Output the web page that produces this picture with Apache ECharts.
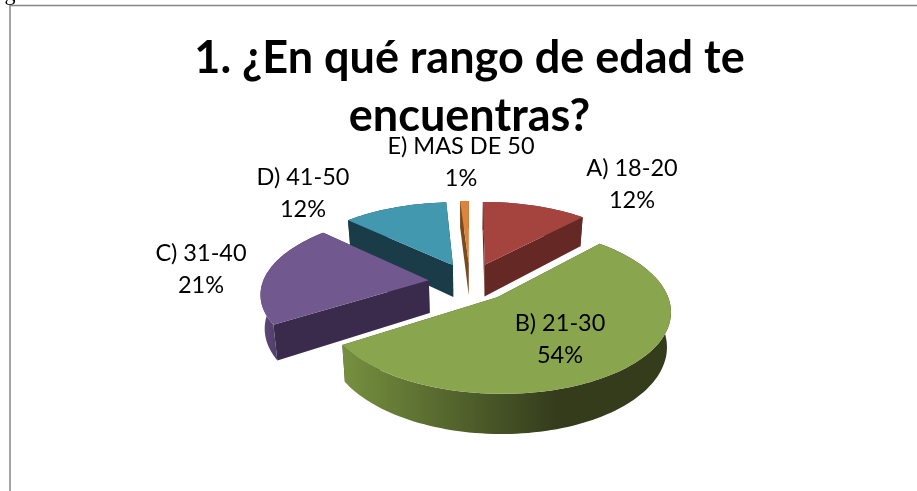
<!DOCTYPE html>
<html>
<head>
<meta charset="utf-8">
<style>
html,body{margin:0;padding:0;background:#fff;}
#chart{width:917px;height:491px;}
</style>
<script src="https://cdn.jsdelivr.net/npm/echarts@6/dist/echarts.min.js"></script>
</head>
<body>
<div id="chart"></div>
<script>
var titleText = '1. ¿En qué rango de edad te\nencuentras?';
var categories = ['A) 18-20', 'B) 21-30', 'C) 31-40', 'D) 41-50', 'E) MAS DE 50'];
var percents = [12, 54, 21, 12, 1];

// look of each slice, same order as categories
var topColors = ['#A5443F', '#89A54E', '#71588F', '#4198AF', '#DB843D'];
var cutColors = ['#652825', '#3C4522', '#3A2B4C', '#1A3C48', '#7A4A1E'];
var wallLeft = ['#652825', '#76903F', '#5F4A7C', '#1A3C48', '#7A4A1E'];
var wallRight = ['#652825', '#343C1C', '#3A2B4C', '#1A3C48', '#7A4A1E'];
var labelAt = [[632, 184], [560, 339], [201, 269], [303, 193], [461, 162]];

// projection of the tilted pie
var cx = 470, cy = 282, rx = 166, ry = 77, persp = 0.15, depth = 33, shrink = 0.98, explode = 0.25;

function project(u, v, low) {
    var w = 1 / (1 - persp * v);
    var x = cx + rx * u * w;
    var y = cy + ry * v * w;
    if (low) {
        x = cx + (x - cx) * shrink;
        y = y + depth * w;
    }
    return [x, y];
}

function renderSlice(params, api) {
    var i = params.dataIndex;
    var before = 0, total = 0;
    for (var k = 0; k < percents.length; k++) {
        if (k < i) before += percents[k];
        total += percents[k];
    }
    var a0 = before / total * Math.PI * 2;
    var a1 = (before + api.value(0)) / total * Math.PI * 2;
    var mid = (a0 + a1) / 2;
    var ou = explode * Math.sin(mid), ov = -explode * Math.cos(mid);

    var rimTop = [], rimLow = [];
    var steps = Math.max(2, Math.round((a1 - a0) / 0.03));
    for (var s = 0; s <= steps; s++) {
        var a = a0 + (a1 - a0) * s / steps;
        var u = ou + Math.sin(a), v = ov - Math.cos(a);
        rimTop.push(project(u, v, false));
        rimLow.push(project(u, v, true));
    }
    var apexTop = project(ou, ov, false), apexLow = project(ou, ov, true);
    var base = Math.round((ov + 2) * 100);
    var last = rimTop.length - 1;

    function poly(points, fill, z) {
        return {type: 'polygon', z2: base + z, shape: {points: points}, style: {fill: fill, stroke: null}};
    }

    return {
        type: 'group',
        children: [
            poly([apexTop, rimTop[0], rimLow[0], apexLow], cutColors[i], 0),
            poly([apexTop, rimTop[last], rimLow[last], apexLow], cutColors[i], 1),
            poly(rimTop.concat(rimLow.slice().reverse()), new echarts.graphic.LinearGradient(0, 0, 1, 0, [
                {offset: 0, color: wallLeft[i]},
                {offset: 0.65, color: wallRight[i]},
                {offset: 1, color: wallRight[i]}
            ]), 2),
            poly([apexTop].concat(rimTop), topColors[i], 3),
            {
                type: 'text',
                z2: 1000,
                style: {
                    x: labelAt[i][0],
                    y: labelAt[i][1],
                    text: categories[i] + '\n' + api.value(0) + '%',
                    fill: '#000',
                    font: '23.5px Lato',
                    lineHeight: 32,
                    align: 'center',
                    verticalAlign: 'middle'
                }
            }
        ]
    };
}

var chart = echarts.init(document.getElementById('chart'), null, {renderer: 'canvas'});
chart.setOption({
    animation: false,
    backgroundColor: '#fff',
    title: {
        text: titleText,
        left: 464.5,
        top: 24,
        textAlign: 'center',
        textStyle: {
            fontFamily: 'Lato',
            fontWeight: 'bold',
            fontSize: 45,
            lineHeight: 58,
            color: '#000'
        }
    },
    graphic: [
        {
            type: 'polyline',
            silent: true,
            shape: {points: [[10, 491], [10, 5.5], [917, 5.5]]},
            style: {stroke: '#868686', lineWidth: 1.5, fill: null}
        },
        {
            type: 'text',
            silent: true,
            style: {x: 10, y: 5, text: 'g', fill: '#000', font: '22px "Liberation Serif"', align: 'center', verticalAlign: 'bottom'}
        }
    ],
    series: [{
        type: 'custom',
        coordinateSystem: 'none',
        silent: true,
        data: percents.map(function (p) { return [p]; }),
        renderItem: renderSlice
    }]
});
</script>
</body>
</html>
